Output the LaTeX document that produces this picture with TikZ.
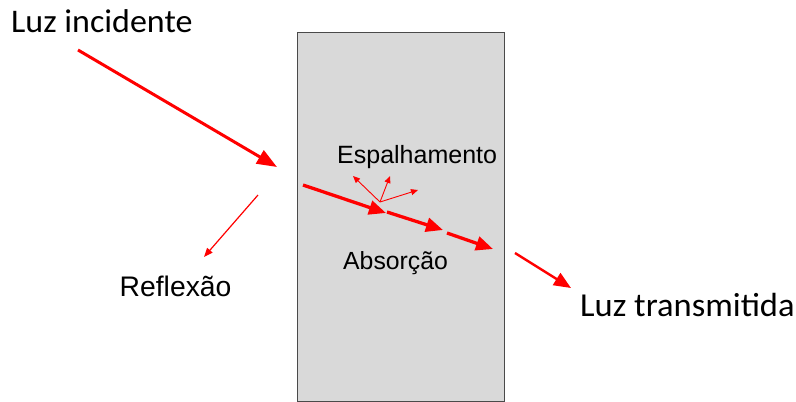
\documentclass[tikz,border=0pt]{standalone}
\usepackage{fontspec}
\setmainfont{Liberation Sans}
\newfontfamily\calib{Carlito}
\usetikzlibrary{arrows.meta}
\definecolor{boxfill}{HTML}{D9D9D9}
\definecolor{boxline}{HTML}{4A4A4A}
\tikzset{
  lbl/.style={inner sep=0pt, anchor=base west, text=black},
  bigray/.style={draw=red, line width=3pt, -{Triangle[length=20pt,width=15pt]}},
  midray/.style={draw=red, line width=3.3pt, -{Triangle[length=17pt,width=14pt]}},
  outray/.style={draw=red, line width=2.4pt, -{Triangle[length=17pt,width=14pt]}},
  thinray/.style={draw=red, line width=1.2pt, -{Triangle[length=9pt,width=7pt]}},
  scatray/.style={draw=red, line width=0.9pt, -{Triangle[length=7pt,width=6pt]}},
}
\begin{document}
\begin{tikzpicture}[x=1pt,y=-1pt]
\useasboundingbox (0,0) rectangle (796,402);
% slab
\draw[fill=boxfill, draw=boxline, line width=1pt] (297,32) rectangle (504,401);
% coordinates
\coordinate (i1) at (78,50);
\coordinate (i2) at (277,167);
\coordinate (r1) at (258,195);
\coordinate (r2) at (204,257);
\coordinate (a1) at (303,185);
\coordinate (a2) at (386,213);
\coordinate (b1) at (387,212);
\coordinate (b2) at (443,230);
\coordinate (c1) at (447,233);
\coordinate (c2) at (493,249);
\coordinate (s0) at (380,202);
\coordinate (s1) at (353,176);
\coordinate (s2) at (390,176);
\coordinate (s3) at (418,190);
\coordinate (t1) at (515,253);
\coordinate (t2) at (571,288);
% labels
\node[lbl, font=\calib\fontsize{33}{39}\selectfont] (linc) at (11,32.3) {\scalebox{1.03}[1]{Luz incidente}};
\node[lbl, font=\fontsize{25}{30}\selectfont] (esp) at (337,163.3) {Espalhamento};
\node[lbl, font=\fontsize{24.8}{29}\selectfont] (abs) at (343,269.3) {Absorção};
\node[lbl, font=\fontsize{28.3}{33}\selectfont] (ref) at (119.5,296.7) {Reflexão};
\node[lbl, font=\calib\fontsize{33.5}{39}\selectfont] (ltr) at (580,316) {\scalebox{1.03}[1]{Luz transmitida}};
% rays
\draw[bigray] (i1) -- (i2);
\draw[thinray] (r1) -- (r2);
\draw[midray] (a1) -- (a2);
\draw[midray] (b1) -- (b2);
\draw[midray] (c1) -- (c2);
\draw[scatray] (s0) -- (s1);
\draw[scatray] (s0) -- (s2);
\draw[scatray] (s0) -- (s3);
\draw[outray] (t1) -- (t2);
\end{tikzpicture}
\end{document}
